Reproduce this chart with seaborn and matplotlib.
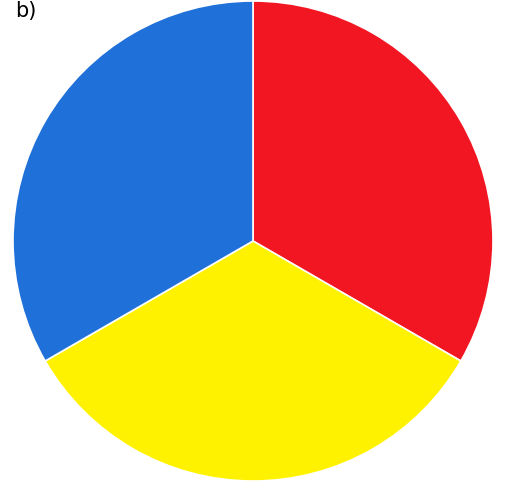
import matplotlib
matplotlib.use("Agg")

import matplotlib.pyplot as plt
import seaborn as sns

# Data: three equal slices, clockwise from top
labels = ["Red", "Yellow", "Blue"]
shares = [1, 1, 1]
colors = ["#F21623", "#FFF200", "#1F70D8"]
panel_label = "b)"

sns.set_theme(style="white")
plt.rcParams["font.family"] = ["DejaVu Sans"]

W, H = 505, 489
fig = plt.figure(figsize=(W / 100, H / 100), dpi=100)
ax = fig.add_axes([0, 0, 1, 1])

ax.pie(
    shares,
    colors=sns.color_palette(colors),
    startangle=90,
    counterclock=False,
    radius=1.0,
    wedgeprops={"edgecolor": "white", "linewidth": 1.2},
)

# place pie centre at (253, 242) px with radius 240 px
r_px, cx, cy = 240, 253, 242
ax.set_aspect("auto")
ax.set_xlim(-cx / r_px, (W - cx) / r_px)
ax.set_ylim(-(H - cy) / r_px, cy / r_px)
ax.axis("off")

fig.text(0.03, 1 - 1 / H, panel_label, fontsize=15, color="black",
         ha="left", va="top")

fig.savefig("out.png", dpi=100, facecolor="white")
